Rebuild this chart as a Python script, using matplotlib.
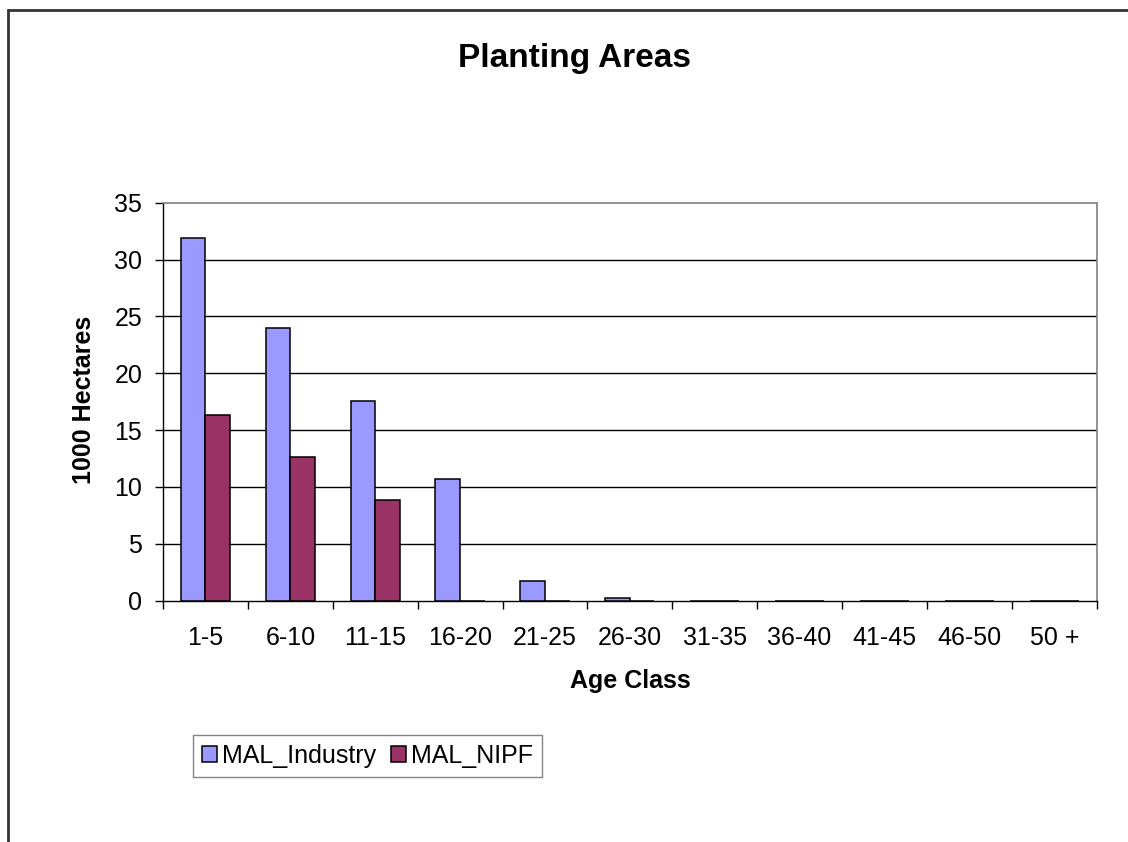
import numpy as np
import matplotlib.pyplot as plt
from matplotlib.patches import Rectangle

plt.rcParams['font.family'] = ['Liberation Sans', 'DejaVu Sans']

age_classes = ["1-5", "6-10", "11-15", "16-20", "21-25", "26-30",
               "31-35", "36-40", "41-45", "46-50", "50 +"]
mal_industry = [31.9, 23.95, 17.6, 10.7, 1.73, 0.26, 0, 0, 0, 0, 0]
mal_nipf = [16.35, 12.6, 8.85, 0, 0, 0, 0, 0, 0, 0, 0]

W, H = 1128, 842
fig = plt.figure(figsize=(W / 100, H / 100), dpi=100)
ax = fig.add_axes([163 / W, 1 - 600.7 / H, (1096.7 - 163) / W, (600.7 - 202.7) / H])

x = np.arange(len(age_classes))
bw = 0.29
ax.bar(x - bw / 2, mal_industry, bw, color="#9999FF", edgecolor="black", linewidth=1.1,
       label="MAL_Industry", zorder=3)
ax.bar(x + bw / 2, mal_nipf, bw, color="#993366", edgecolor="black", linewidth=1.1,
       label="MAL_NIPF", zorder=3)

ax.set_xlim(-0.5, len(age_classes) - 0.5)
ax.set_ylim(0, 35)
ax.set_yticks(np.arange(0, 36, 5))
for yv in range(5, 35, 5):
    ax.axhline(yv, color="black", linewidth=1.0, zorder=1)

ax.set_xticks(x)
ax.set_xticklabels(age_classes, fontsize=18)
ax.set_xticks(np.arange(-0.5, len(age_classes), 1), minor=True)
ax.tick_params(axis="x", which="major", length=0, pad=18)
ax.tick_params(axis="x", which="minor", length=6, direction="out", width=1)
ax.tick_params(axis="y", length=6, direction="out", width=1, labelsize=18, pad=9)

for s in ["top", "right"]:
    ax.spines[s].set_color("#808080")
    ax.spines[s].set_linewidth(1.2)
for s in ["left", "bottom"]:
    ax.spines[s].set_color("black")
    ax.spines[s].set_linewidth(1.0)

ax.set_xlabel("Age Class", fontsize=18, fontweight="bold")
ax.xaxis.set_label_coords(0.501, -0.172)
ax.set_ylabel("1000 Hectares", fontsize=18, fontweight="bold")
ax.yaxis.set_label_coords(-0.072, 0.504)

fig.text(575 / W, 1 - 59 / H, "Planting Areas", fontsize=24, fontweight="bold",
         ha="center", va="center")

leg = fig.legend(loc="upper left", bbox_to_anchor=(193 / W, 1 - 735 / H), ncol=2,
                 fontsize=18, frameon=True, fancybox=False, handlelength=0.6,
                 handleheight=0.6, handletextpad=0.2, columnspacing=0.6,
                 borderpad=0.35, borderaxespad=0)
leg.get_frame().set_edgecolor("#666666")
leg.get_frame().set_linewidth(1.0)

# outer chart border, clipped by the image on right and bottom
fig.patches.append(Rectangle((8 / W, -0.1), 1.2, 1 - 10 / H + 0.1, transform=fig.transFigure,
                             fill=False, edgecolor="#333333", linewidth=2))

fig.savefig("out.png", dpi=100)
